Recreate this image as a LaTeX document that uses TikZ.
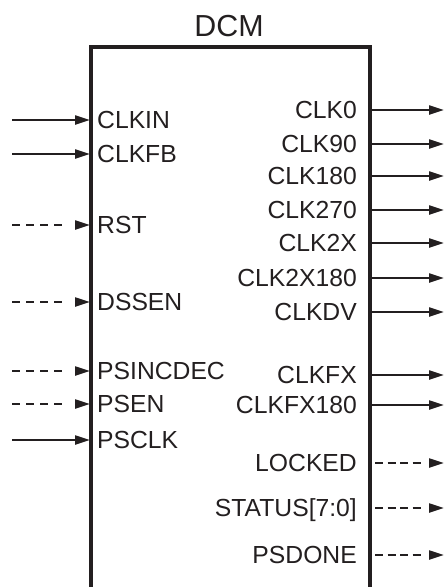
\documentclass[tikz,border=0pt]{standalone}
\usepackage{fontspec}
\setmainfont{Liberation Sans}
\usetikzlibrary{arrows.meta}
\definecolor{ink}{HTML}{231F20}

\begin{document}
\begin{tikzpicture}[
  x=1pt, y=-1pt,
  >={Triangle[length=15pt, width=9pt]},
  pinlabel/.style={inner sep=0pt, text=ink, text height=17.6pt, text depth=0pt,
    font=\fontsize{24.7}{28}\selectfont},
  sig/.style={->, line width=2.2pt, ink},
  ctlin/.style={sig,
    dash pattern=on 8pt off 6pt on 8pt off 6pt on 8pt off 6pt on 8pt off 30pt},
  ctlout/.style={sig,
    dash pattern=on 8pt off 4.5pt on 8pt off 4.5pt on 8pt off 4.5pt on 8pt off 30pt,
    dash phase=72.5pt},
]

% Page
\useasboundingbox (0,0) rectangle (444,587);

% Title
\node[inner sep=0pt, text=ink, text height=21.8pt, text depth=0pt,
  font=\fontsize{30.4}{34}\selectfont] (title) at (229,25.5) {DCM};

% =============================================
% Block (open at the bottom)
% =============================================
\draw[ink, line width=3.5pt] (91,595) -- (91,47) -- (370,47) -- (370,595);

% =============================================
% Inputs
% =============================================
\foreach \name/\y/\txt/\kind in {
    clkin/120/CLKIN/sig, clkfb/154/CLKFB/sig, rst/225/RST/ctlin,
    dssen/302/DSSEN/ctlin, psincdec/371/PSINCDEC/ctlin, psen/404/PSEN/ctlin,
    psclk/440/PSCLK/sig} {
  \coordinate (\name-src) at (12,\y);
  \coordinate (\name-pin) at (90,\y);
  \node[pinlabel, anchor=west] (\name) at (97,\y) {\txt};
  \draw[\kind] (\name-src) -- (\name-pin);
}

% =============================================
% Outputs
% =============================================
\foreach \name/\y/\txt/\kind in {
    clk0/110/CLK0/sig, clk90/144/CLK90/sig, clk180/176/CLK180/sig,
    clk270/210/CLK270/sig, clk2x/243/CLK2X/sig, clk2x180/278/CLK2X180/sig,
    clkdv/312/CLKDV/sig, clkfx/375/CLKFX/sig, clkfx180/405/CLKFX180/sig,
    locked/463/LOCKED/ctlout, status/508/{STATUS[7:0]}/ctlout,
    psdone/555/PSDONE/ctlout} {
  \coordinate (\name-pin) at (372,\y);
  \coordinate (\name-dst) at (444,\y);
  \node[pinlabel, anchor=east] (\name) at (357,\y) {\txt};
  \draw[\kind] (\name-pin) -- (\name-dst);
}

\end{tikzpicture}
\end{document}
